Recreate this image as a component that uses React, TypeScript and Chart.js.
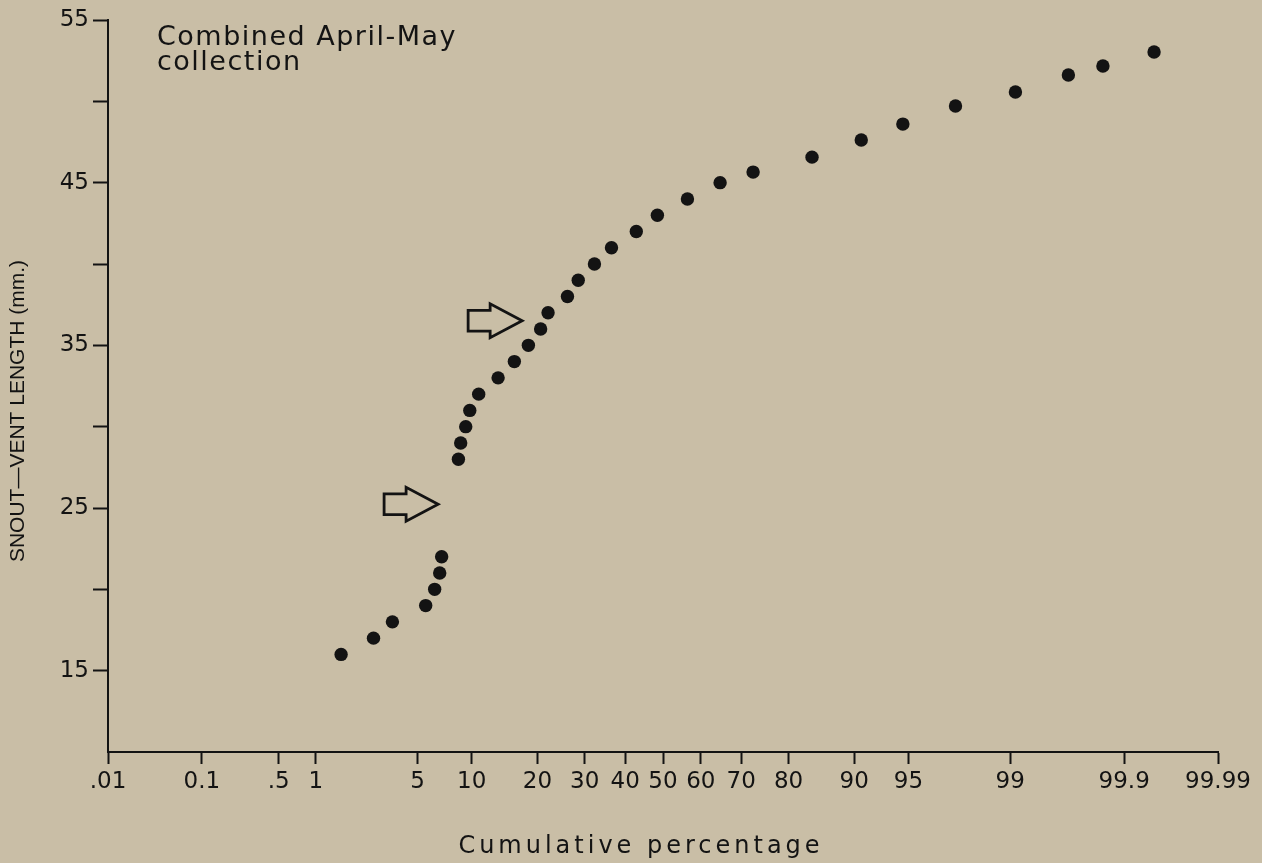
import React, { useEffect, useRef } from 'react';
import { Chart, registerables } from 'chart.js';

Chart.register(...registerables);

// ---- data ----
const xTickPercents = [0.01, 0.1, 0.5, 1, 5, 10, 20, 30, 40, 50, 60, 70, 80, 90, 95, 99, 99.9, 99.99];
const xTickLabels = ['.01', '0.1', '.5', '1', '5', '10', '20', '30', '40', '50', '60', '70', '80', '90', '95', '99', '99.9', '99.99'];
const yTickValues = [15, 20, 25, 30, 35, 40, 45, 50, 55];
const yTickLabels = ['15', '', '25', '', '35', '', '45', '', '55'];

const cumulativePct = [
  1.55, 2.62, 3.49, 5.59, 6.3, 6.73, 6.9,
  8.52, 8.76, 9.31, 9.77, 10.84, 13.46, 15.96, 18.35, 20.61, 22.06,
  26.1, 28.5, 32.3, 36.5, 42.9, 48.5, 56.5, 64.9, 72.7, 84.1, 90.8,
  94.6, 97.5, 99.09, 99.67, 99.84, 99.95,
];
const snoutVentMm = [
  16, 17, 18, 19, 20, 21, 22,
  28, 29, 30, 31, 32, 33, 34, 35, 36, 37,
  38, 39, 40, 41, 42, 43, 44, 45, 45.65, 46.57, 47.62,
  48.6, 49.71, 50.57, 51.62, 52.17, 53.03,
];
const arrowTipPct = [6.59, 17.26];
const arrowTipMm = [25.23, 36.51];

const noteLines = ['Combined April-May', 'collection'];
const xTitle = 'Cumulative percentage';
const yTitle = 'SNOUT\u2014VENT LENGTH (mm.)';

// inverse standard normal CDF (Acklam)
function probit(p: number): number {
  const a = [-3.969683028665376e1, 2.209460984245205e2, -2.759285104469687e2, 1.38357751867269e2, -3.066479806614716e1, 2.506628277459239];
  const b = [-5.447609879822406e1, 1.615858368580409e2, -1.556989798598866e2, 6.680131188771972e1, -1.328068155288572e1];
  const c = [-7.784894002430293e-3, -3.223964580411365e-1, -2.400758277161838, -2.549732539343734, 4.374664141464968, 2.938163982698783];
  const d = [7.784695709041462e-3, 3.224671290700398e-1, 2.445134137142996, 3.754408661907416];
  const plow = 0.02425;
  const phigh = 1 - plow;
  if (p < plow) {
    const q = Math.sqrt(-2 * Math.log(p));
    return (((((c[0] * q + c[1]) * q + c[2]) * q + c[3]) * q + c[4]) * q + c[5]) / ((((d[0] * q + d[1]) * q + d[2]) * q + d[3]) * q + 1);
  }
  if (p > phigh) {
    const q = Math.sqrt(-2 * Math.log(1 - p));
    return -(((((c[0] * q + c[1]) * q + c[2]) * q + c[3]) * q + c[4]) * q + c[5]) / ((((d[0] * q + d[1]) * q + d[2]) * q + d[3]) * q + 1);
  }
  const q = p - 0.5;
  const r = q * q;
  return ((((((a[0] * r + a[1]) * r + a[2]) * r + a[3]) * r + a[4]) * r + a[5]) * q) / (((((b[0] * r + b[1]) * r + b[2]) * r + b[3]) * r + b[4]) * r + 1);
}
const pz = (pct: number) => probit(pct / 100);

const INK = '#131313';
const BG = '#c9bea6';
const FONT = '"DejaVu Sans", sans-serif';

const decorPlugin = {
  id: 'decor',
  afterDraw(chart: any) {
    const { ctx, scales } = chart;
    const xs = scales.x;
    const ys = scales.y;
    ctx.save();
    ctx.fillStyle = INK;
    ctx.strokeStyle = INK;

    // note
    ctx.font = `27px ${FONT}`;
    (ctx as any).letterSpacing = '1.5px';
    ctx.textAlign = 'left';
    ctx.textBaseline = 'alphabetic';
    ctx.fillText(noteLines[0], 157, 45);
    ctx.fillText(noteLines[1], 157, 70);

    // x title
    ctx.font = `24px ${FONT}`;
    (ctx as any).letterSpacing = '4px';
    ctx.textAlign = 'center';
    ctx.textBaseline = 'middle';
    ctx.fillText(xTitle, 641, 847);
    (ctx as any).letterSpacing = '0px';

    // y title
    ctx.save();
    ctx.translate(18, 411);
    ctx.rotate(-Math.PI / 2);
    ctx.font = `21px "Liberation Sans", Arial, sans-serif`;
    ctx.textAlign = 'center';
    ctx.textBaseline = 'middle';
    ctx.fillText(yTitle, 0, 0);
    ctx.restore();

    // hollow arrows
    ctx.lineWidth = 2.8;
    ctx.lineJoin = 'miter';
    for (let i = 0; i < arrowTipPct.length; i++) {
      const tx = xs.getPixelForValue(pz(arrowTipPct[i]));
      const ty = ys.getPixelForValue(arrowTipMm[i]);
      const len = 54, headLen = 32, bodyH = 10.3, headH = 17;
      ctx.beginPath();
      ctx.moveTo(tx, ty);
      ctx.lineTo(tx - headLen, ty - headH);
      ctx.lineTo(tx - headLen, ty - bodyH);
      ctx.lineTo(tx - len, ty - bodyH);
      ctx.lineTo(tx - len, ty + bodyH);
      ctx.lineTo(tx - headLen, ty + bodyH);
      ctx.lineTo(tx - headLen, ty + headH);
      ctx.closePath();
      ctx.stroke();
    }
    ctx.restore();
  },
};

export default function App() {
  const canvasRef = useRef<HTMLCanvasElement | null>(null);

  useEffect(() => {
    const canvas = canvasRef.current;
    if (!canvas) return;
    const points = cumulativePct.map((p, i) => ({ x: pz(p), y: snoutVentMm[i] }));
    const xMin = pz(xTickPercents[0]);
    const xMax = pz(xTickPercents[xTickPercents.length - 1]);

    const chart = new Chart(canvas, {
      type: 'scatter',
      data: {
        datasets: [
          {
            data: points,
            pointRadius: 6.7,
            pointHoverRadius: 6.7,
            backgroundColor: INK,
            borderWidth: 0,
            showLine: false,
          },
        ],
      },
      options: {
        responsive: false,
        animation: false,
        devicePixelRatio: 1,
        layout: { padding: { top: 20, right: 44, bottom: 0, left: 0 } },
        plugins: { legend: { display: false }, tooltip: { enabled: false } },
        scales: {
          x: {
            type: 'linear',
            min: xMin,
            max: xMax,
            afterBuildTicks: (scale: any) => {
              scale.ticks = xTickPercents.map((p) => ({ value: pz(p) }));
            },
            afterFit: (scale: any) => {
              scale.height = 111;
            },
            ticks: {
              autoSkip: false,
              maxRotation: 0,
              minRotation: 0,
              padding: 4,
              color: INK,
              font: { family: FONT, size: 23 },
              callback: (_v: any, i: number) => xTickLabels[i],
            },
            grid: {
              drawOnChartArea: false,
              drawTicks: true,
              tickLength: 12,
              tickWidth: 2,
              tickColor: INK,
            },
            border: { display: true, color: INK, width: 2 },
          },
          y: {
            type: 'linear',
            min: 10,
            max: 55,
            afterBuildTicks: (scale: any) => {
              scale.ticks = yTickValues.map((v) => ({ value: v }));
            },
            afterFit: (scale: any) => {
              scale.width = 108;
            },
            ticks: {
              autoSkip: false,
              padding: 4,
              color: INK,
              font: { family: FONT, size: 23 },
              callback: (_v: any, i: number) => yTickLabels[i],
            },
            grid: {
              drawOnChartArea: false,
              drawTicks: true,
              tickLength: 15,
              tickWidth: 2,
              tickColor: INK,
            },
            border: { display: true, color: INK, width: 2 },
          },
        },
      },
      plugins: [decorPlugin],
    } as any);

    return () => chart.destroy();
  }, []);

  return (
    <div style={{ position: 'fixed', left: 0, top: 0, width: 1262, height: 863, background: BG }}>
      <canvas ref={canvasRef} width={1262} height={863} style={{ width: 1262, height: 863, display: 'block' }} />
    </div>
  );
}
